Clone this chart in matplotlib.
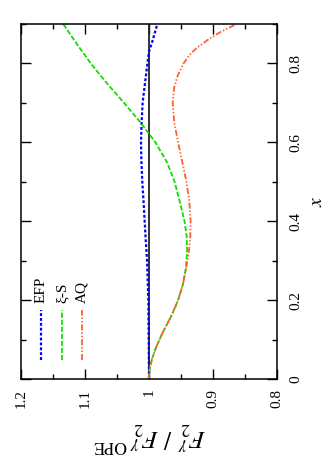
import matplotlib
matplotlib.use('Agg')
import matplotlib.pyplot as plt
from matplotlib.ticker import FixedLocator, MultipleLocator
from matplotlib.lines import Line2D

plt.rcParams['font.family'] = ['Liberation Serif', 'DejaVu Serif']
plt.rcParams['mathtext.fontset'] = 'stix'

# ---- data (x = Bjorken x, r = F2^gamma / F2^gamma,OPE) ----
efp_x = [0.0, 0.1, 0.2, 0.3, 0.35, 0.4, 0.45, 0.5, 0.55, 0.6, 0.65, 0.7, 0.74, 0.78, 0.83, 0.86, 0.9]
efp_r = [1.0, 1.0005, 1.001, 1.003, 1.005, 1.0068, 1.0085, 1.0105, 1.0118, 1.0125, 1.0115,
         1.010, 1.007, 1.004, 1.0, 0.994, 0.987]

xis_x = [0.0, 0.02, 0.05, 0.08, 0.12, 0.16, 0.2, 0.24, 0.28, 0.32, 0.36, 0.4, 0.45, 0.5,
         0.55, 0.6, 0.65, 0.7, 0.75, 0.8, 0.85, 0.9]
xis_r = [1.0, 0.9995, 0.9955, 0.989, 0.978, 0.965, 0.9545, 0.947, 0.9425, 0.9405, 0.941,
         0.9445, 0.952, 0.960, 0.972, 0.990, 1.013, 1.039, 1.066, 1.091, 1.113, 1.134]

aq_x = [0.0, 0.02, 0.05, 0.08, 0.12, 0.16, 0.2, 0.24, 0.28, 0.32, 0.36, 0.4, 0.45, 0.5,
        0.55, 0.6, 0.65, 0.7, 0.74, 0.77, 0.8, 0.82, 0.84, 0.86, 0.88, 0.9]
aq_r = [1.0, 0.9995, 0.9955, 0.989, 0.978, 0.965, 0.9545, 0.947, 0.942, 0.938, 0.9355,
        0.935, 0.937, 0.9415, 0.948, 0.9545, 0.9605, 0.963, 0.9605, 0.955, 0.946, 0.9375,
        0.925, 0.908, 0.888, 0.863]

ref_x = [0.0, 0.9]
ref_r = [1.0, 1.0]

labels = ['EFP', 'ξ-S', 'AQ']
r_ticks = [1.2, 1.1, 1.0, 0.9, 0.8]
r_tick_labels = ['1.2', '1.1', '1', '0.9', '0.8']
x_ticks = [0.0, 0.2, 0.4, 0.6, 0.8]
x_tick_labels = ['0', '0.2', '0.4', '0.6', '0.8']

colors = ['#0000ff', '#11dd00', '#ff6030']
styles = [dict(lw=1.6, dashes=(1.3, 0.9)),
          dict(lw=1.3, dashes=(2.8, 1.1)),
          dict(lw=1.3, dashes=(3.3, 1.1, 0.8, 1.1, 0.8, 1.1))]

fig = plt.figure(figsize=(3.3, 4.7), dpi=100)
ax = fig.add_axes([21/330, 1-379/470, 256/330, 355/470])

ax.plot(ref_r, ref_x, color='#222222', lw=1.3)
for (xv, rv), c, st in zip([(efp_x, efp_r), (xis_x, xis_r), (aq_x, aq_r)], colors, styles):
    ax.plot(rv, xv, color=c, **st)

ax.set_xlim(1.2, 0.8)
ax.set_ylim(0.0, 0.9)

ax.xaxis.set_major_locator(FixedLocator(r_ticks))
ax.set_xticklabels(r_tick_labels, rotation=90)
ax.xaxis.set_minor_locator(MultipleLocator(0.05))
ax.yaxis.set_major_locator(FixedLocator(x_ticks))
ax.yaxis.set_minor_locator(MultipleLocator(0.1))
ax.yaxis.tick_right()
ax.set_yticklabels(x_tick_labels, rotation=90, va='center')

ax.tick_params(which='both', direction='in', top=True, bottom=True, left=True, right=True,
               labelsize=11, width=1.0)
ax.tick_params(which='major', length=7)
ax.tick_params(which='minor', length=3.6)
ax.tick_params(axis='x', pad=7)
ax.tick_params(axis='y', pad=9)
for s in ax.spines.values():
    s.set_linewidth(1.1)

ax.yaxis.set_label_position('right')
ax.set_ylabel('$x$', rotation=90, fontsize=14, labelpad=5)
ax.set_xlabel(r'$F_2^{\,\gamma}\ /\ F_2^{\,\gamma\ \mathrm{OPE}}$', rotation=180, fontsize=18,
              labelpad=9)

# legend (rotated, drawn in axes coordinates)
leg_x = [0.078, 0.16, 0.238]
for lx, lab, c, st in zip(leg_x, labels, colors, styles):
    ax.add_line(Line2D([lx, lx], [0.054, 0.194], transform=ax.transAxes, color=c, **st))
    ax.text(lx, 0.214, lab, transform=ax.transAxes, rotation=90, ha='center', va='bottom',
            fontsize=11)

fig.savefig('out.png', dpi=100)
